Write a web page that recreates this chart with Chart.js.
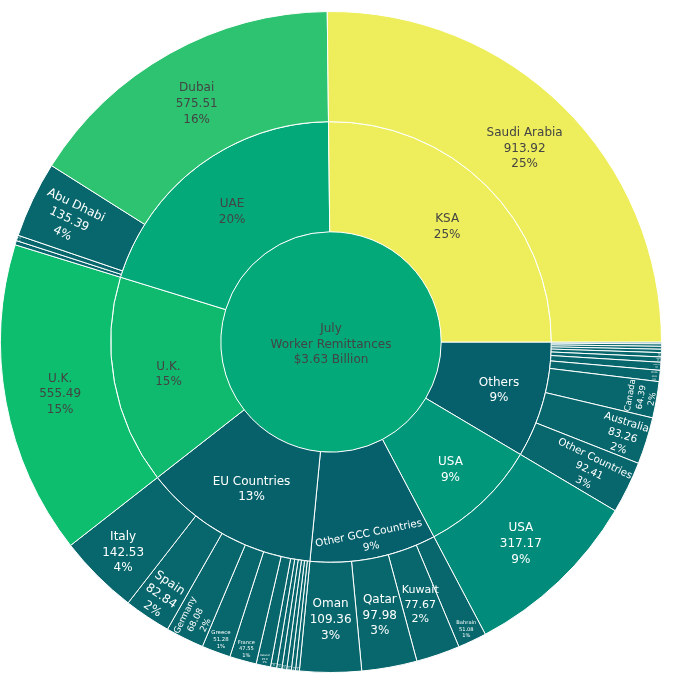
<!DOCTYPE html>
<html>
<head>
<meta charset="utf-8">
<script src="https://cdn.jsdelivr.net/npm/chart.js@4.4.0/dist/chart.umd.min.js"></script>
<style>
  html, body { margin: 0; padding: 0; background: #fff; }
  #wrap { position: absolute; left: 0; top: 11px; width: 662px; height: 662px; }
</style>
</head>
<body>
<div id="wrap"><canvas id="sunburst"></canvas></div>
<script>
// Envois de fonds de juillet (millions USD), ordre horaire à partir de 3 h
const centerLines = ['July', 'Worker Remittances', '$3.63 Billion'];

const regions = ['Others', 'USA', 'Other GCC Countries', 'EU Countries', 'U.K.', 'UAE', 'KSA'];

const othersCountries = ['Switzerland', 'Hong Kong', 'South Africa', 'South Korea', 'Japan', 'Norway', 'Malaysia', 'China', 'Canada', 'Australia', 'Other Countries'];
const othersValues = [3.2, 4.4, 5.1, 5.9, 7.6, 9.3, 14.2, 19.8, 64.39, 83.26, 92.41];

const usaCountries = ['USA'];
const usaValues = [317.17];

const gccCountries = ['Bahrain', 'Kuwait', 'Qatar', 'Oman'];
const gccValues = [51.08, 77.67, 97.98, 109.36];

const euCountries = ['Portugal', 'Austria', 'Denmark', 'Sweden', 'Belgium', 'Netherlands', 'Ireland', 'France', 'Greece', 'Germany', 'Spain', 'Italy'];
const euValues = [6.8, 7.4, 8.1, 8.6, 9.2, 10.9, 25.6, 47.55, 51.28, 68.08, 82.84, 142.53];

const ukCountries = ['U.K.'];
const ukValues = [555.49];

const uaeCountries = ['Other Emirates', 'Sharjah', 'Abu Dhabi', 'Dubai'];
const uaeValues = [7.6, 9.8, 135.39, 575.51];

const ksaCountries = ['Saudi Arabia'];
const ksaValues = [913.92];

// couleurs (style, séparé des données)
const rootColor = '#03a979';
const regionColors = {
    'Others': '#06606b', 'USA': '#00977b', 'Other GCC Countries': '#06606b',
    'EU Countries': '#06616b', 'U.K.': '#0fba6f', 'UAE': '#03a979', 'KSA': '#eeee5c'
};
const leafColors = { 'Saudi Arabia': '#eeee5c', 'Dubai': '#2ec370', 'U.K.': '#0cbe6e', 'USA': '#008b7a' };
const leafDefault = '#07676c';

const FONT = "Verdana, 'DejaVu Sans', sans-serif";
const FONT_SIZE = 12;
const LINE_GAP = 1.3;
const TEXTPAD = 3;

// Construction des anneaux
const groups = [
    [othersCountries, othersValues], [usaCountries, usaValues], [gccCountries, gccValues],
    [euCountries, euValues], [ukCountries, ukValues], [uaeCountries, uaeValues], [ksaCountries, ksaValues]
];
const regionValues = groups.map(g => g[1].reduce((s, v) => s + v, 0));
const total = regionValues.reduce((s, v) => s + v, 0);
const pct = v => Math.round(v / total * 100) + '%';

let leafLabels = [], leafValues = [], leafTexts = [], leafBg = [];
groups.forEach(g => {
    g[0].forEach((name, i) => {
        leafLabels.push(name);
        leafValues.push(g[1][i]);
        leafTexts.push([name, String(g[1][i]), pct(g[1][i])]);
        leafBg.push(leafColors[name] || leafDefault);
    });
});
const regionTexts = regions.map((r, i) => [r, pct(regionValues[i])]);
const regionBg = regions.map(r => regionColors[r]);

// Orientation du texte (comme plotly : horizontal, radial ou tangentiel)
function normRot(a) {
    a = a % Math.PI;
    if (a > Math.PI / 2) a -= Math.PI;
    if (a <= -Math.PI / 2) a += Math.PI;
    return a;
}

function calcMaxHalfSize(a, halfAngle, r, ring) {
    const q = a + 1 / (2 * Math.tan(halfAngle));
    return r * Math.min(1 / (Math.sqrt(q * q + 0.5) + q), ring / (Math.sqrt(a * a + ring / 2) + a));
}

function textTransform(p, w, h, leaf) {
    const span = p.endAngle - p.startAngle;
    const full = span >= 2 * Math.PI - 1e-6;
    const mid = (p.startAngle + p.endAngle) / 2;
    const r = p.outerRadius;
    const ring = 1 - p.innerRadius / r;
    const half = 0.5 * Math.min(span || Math.PI, Math.PI);

    // secteurs du bas (à droite du bas) : texte horizontal au milieu de l'anneau
    const phi = ((mid % (2 * Math.PI)) + 2 * Math.PI) % (2 * Math.PI);
    if (leaf && phi > 1.2 && phi < 1.6) {
        const rm = (p.innerRadius + r) / 2;
        return { scale: 2 * rm * Math.sin(half) / w, rc: rm / r, rot: 0 };
    }

    const rIns = (p.innerRadius === 0 && full) ? 1 : Math.max(0, Math.min(1 / (1 + 1 / Math.sin(half)), ring / 2));
    const horiz = { scale: rIns * r * 2 / Math.hypot(w, h), rc: 1 - rIns, rot: 0 };
    // petits secteurs : on garde le texte horizontal, réduit
    if (horiz.scale >= 1 || span < 5.5 * Math.PI / 180) return horiz;

    const rr = Math.max(0, r - 2 * TEXTPAD);
    let a = w / h;
    let s = calcMaxHalfSize(a, half, rr, ring);
    const rad = { scale: 2 * s / h, rc: Math.cos(s / rr) - a * s / rr, rot: normRot(mid) };
    a = h / w;
    s = calcMaxHalfSize(a, half, rr, ring);
    const tan = { scale: 2 * s / w, rc: Math.cos(s / rr) - a * s / rr, rot: normRot(mid + Math.PI / 2) };

    let best = horiz;
    if (rad.scale > best.scale) best = rad;
    if (tan.scale > best.scale * 0.97) best = tan;
    return best;
}

function textColor(hex) {
    const n = parseInt(hex.slice(1), 16);
    const b = ((n >> 16) * 299 + ((n >> 8) & 255) * 587 + (n & 255) * 114) / 1000;
    return b > 105 ? '#444' : '#fff';
}

const sunburstLabels = {
    id: 'sunburstLabels',
    afterDatasetsDraw(chart) {
        const ctx = chart.ctx;
        chart.data.datasets.forEach((ds, di) => {
            const meta = chart.getDatasetMeta(di);
            meta.data.forEach((arc, i) => {
                const lines = ds.texts[i];
                const p = arc.getProps(['x', 'y', 'startAngle', 'endAngle', 'innerRadius', 'outerRadius'], true);
                ctx.save();
                ctx.font = FONT_SIZE + 'px ' + FONT;
                const w = Math.max(...lines.map(l => ctx.measureText(l).width));
                const h = FONT_SIZE * (LINE_GAP * (lines.length - 1) + 1.2);
                const t = textTransform(p, w, h, di === 0);
                const fs = FONT_SIZE * Math.min(1, t.scale);
                if (fs < 0.6) { ctx.restore(); return; }
                const mid = (p.startAngle + p.endAngle) / 2;
                const rc = t.rc * p.outerRadius;
                ctx.translate(p.x + rc * Math.cos(mid), p.y + rc * Math.sin(mid));
                ctx.rotate(t.rot);
                ctx.font = fs + 'px ' + FONT;
                ctx.fillStyle = textColor(ds.backgroundColor[i]);
                ctx.textAlign = 'center';
                ctx.textBaseline = 'middle';
                lines.forEach((l, k) => {
                    ctx.fillText(l, 0, (k - (lines.length - 1) / 2) * LINE_GAP * fs + 0.2 * fs);
                });
                ctx.restore();
            });
        });
    }
};

new Chart(document.getElementById('sunburst'), {
    type: 'pie',
    data: {
        labels: leafLabels,
        datasets: [
            { data: leafValues, backgroundColor: leafBg, texts: leafTexts, borderColor: '#fff', borderWidth: 1 },
            { data: regionValues, backgroundColor: regionBg, texts: regionTexts, borderColor: '#fff', borderWidth: 1 },
            { data: [total], backgroundColor: [rootColor], texts: [centerLines], borderWidth: 0 }
        ]
    },
    options: {
        responsive: true,
        maintainAspectRatio: false,
        animation: false,
        rotation: 90,
        events: [],
        plugins: { legend: { display: false }, tooltip: { enabled: false } }
    },
    plugins: [sunburstLabels]
});
</script>
</body>
</html>
